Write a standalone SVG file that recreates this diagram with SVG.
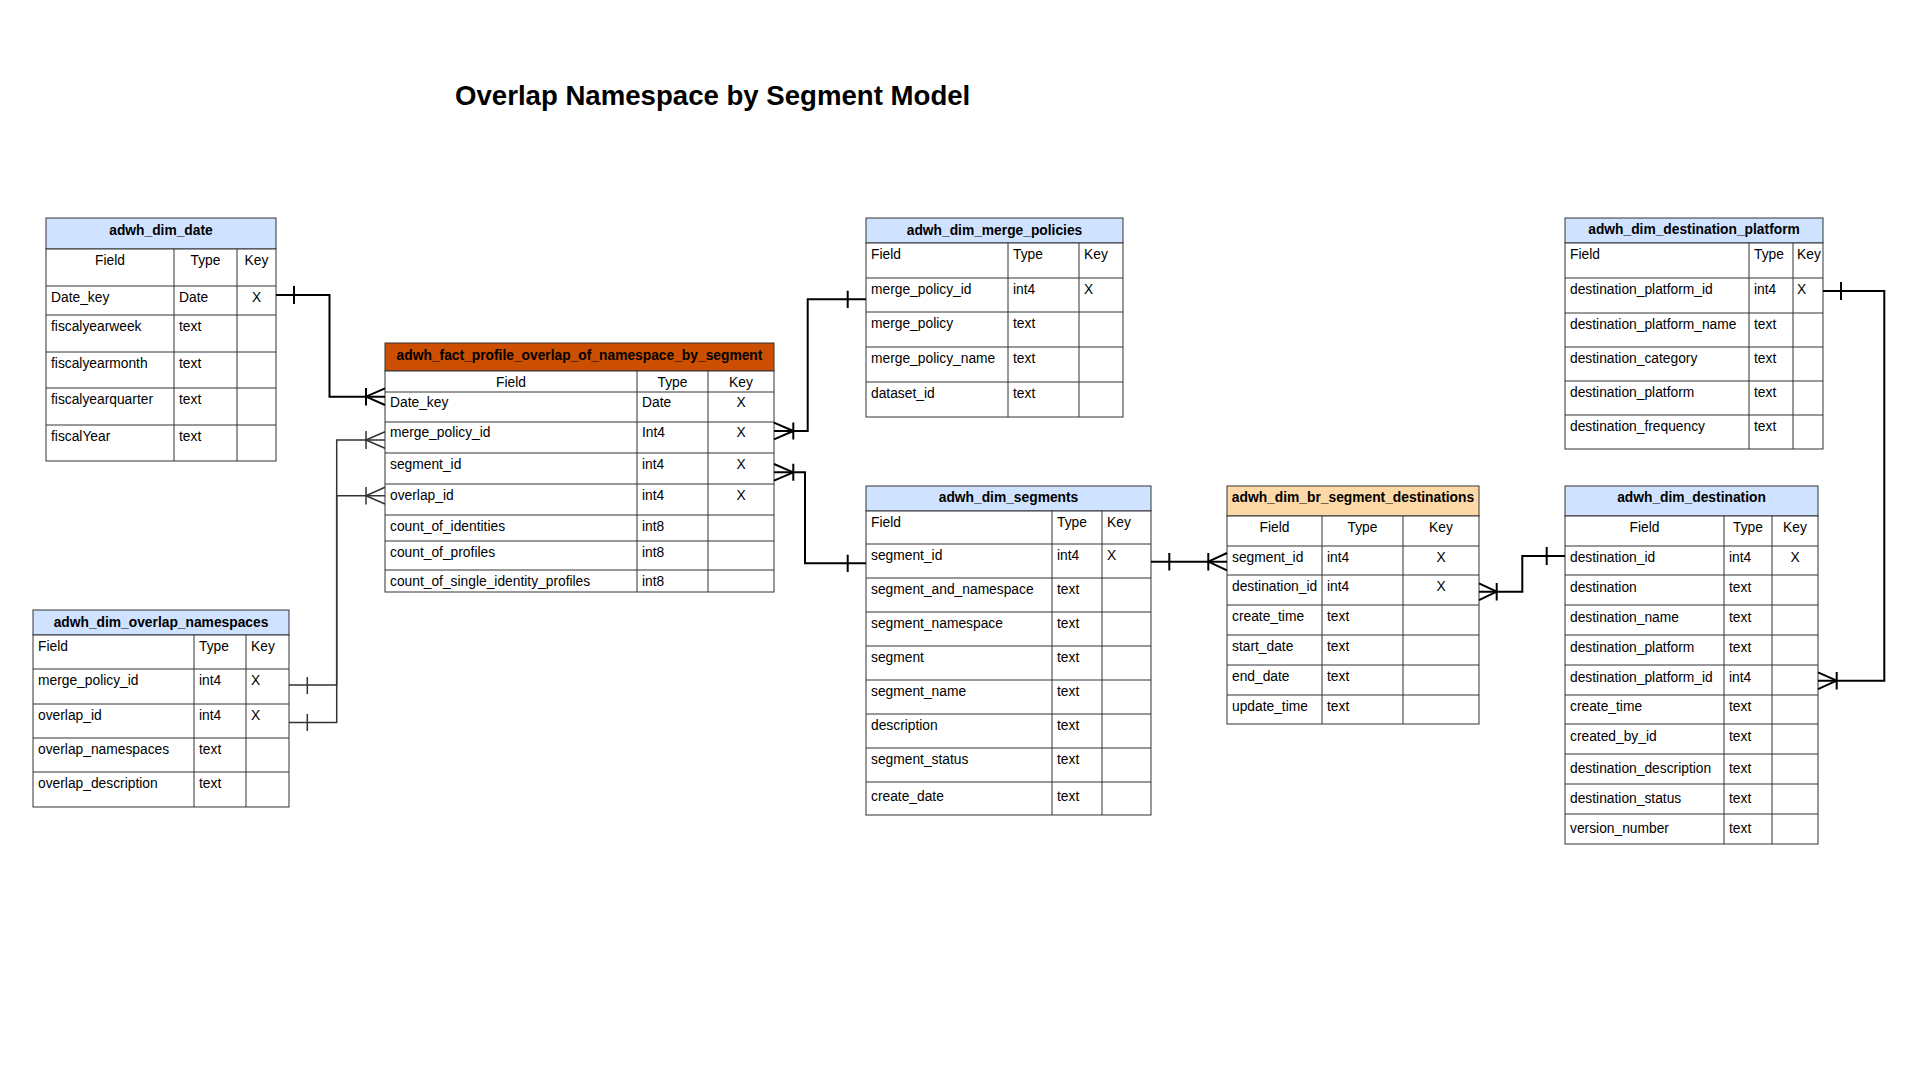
<svg xmlns="http://www.w3.org/2000/svg" width="1920" height="1080" viewBox="0 0 1920 1080">
<style>
text{font-family:"Liberation Sans",Arial,sans-serif;font-size:13.8px;fill:#000}
.tb{font-weight:bold}
.m{text-anchor:middle}
.title{font-size:27.6px;font-weight:bold}
.hd{stroke:#333;stroke-width:1}
.blue{fill:#cfe2ff}
.orange{fill:#cc4e00}
.peach{fill:#fcd9a6}
.frame{fill:#fff;stroke:#333;stroke-width:1}
.ln{fill:none;stroke:#333;stroke-width:1}
.conn{fill:none;stroke:#000;stroke-width:2}
.conn2{fill:none;stroke:#333;stroke-width:1.5}
</style>
<rect width="1920" height="1080" fill="#fff"/>
<text class="title" x="455" y="105">Overlap Namespace by Segment Model</text>

<g id="adwh_dim_date">
<rect class="hd blue" x="46" y="218" width="230" height="31"/>
<rect class="frame" x="46" y="249" width="230" height="212"/>
<path class="ln" d="M46,286H276M46,315H276M46,352H276M46,388H276M46,425H276M174,249V461M237,249V461"/>
<text class="tb m" x="161" y="235">adwh_dim_date</text>
<text class="m" x="110" y="265">Field</text><text class="m" x="205.5" y="265">Type</text><text class="m" x="256.5" y="265">Key</text>
<text x="51" y="302">Date_key</text><text x="179" y="302">Date</text><text class="m" x="256.5" y="302">X</text>
<text x="51" y="331">fiscalyearweek</text><text x="179" y="331">text</text>
<text x="51" y="368">fiscalyearmonth</text><text x="179" y="368">text</text>
<text x="51" y="404">fiscalyearquarter</text><text x="179" y="404">text</text>
<text x="51" y="441">fiscalYear</text><text x="179" y="441">text</text>
</g>

<g id="adwh_fact_profile_overlap_of_namespace_by_segment">
<rect class="hd orange" x="385" y="343" width="389" height="28"/>
<rect class="frame" x="385" y="371" width="389" height="221"/>
<path class="ln" d="M385,392H774M385,422H774M385,453H774M385,484H774M385,515H774M385,541H774M385,570H774M637,371V592M708,371V592"/>
<text class="tb m" x="579.5" y="359.5">adwh_fact_profile_overlap_of_namespace_by_segment</text>
<text class="m" x="511" y="387">Field</text><text class="m" x="672.5" y="387">Type</text><text class="m" x="741" y="387">Key</text>
<text x="390" y="407">Date_key</text><text x="642" y="407">Date</text><text class="m" x="741" y="407">X</text>
<text x="390" y="437">merge_policy_id</text><text x="642" y="437">Int4</text><text class="m" x="741" y="437">X</text>
<text x="390" y="468.5">segment_id</text><text x="642" y="468.5">int4</text><text class="m" x="741" y="468.5">X</text>
<text x="390" y="499.5">overlap_id</text><text x="642" y="499.5">int4</text><text class="m" x="741" y="499.5">X</text>
<text x="390" y="531">count_of_identities</text><text x="642" y="531">int8</text>
<text x="390" y="556.5">count_of_profiles</text><text x="642" y="556.5">int8</text>
<text x="390" y="585.5">count_of_single_identity_profiles</text><text x="642" y="585.5">int8</text>
</g>

<g id="adwh_dim_overlap_namespaces">
<rect class="hd blue" x="33" y="610" width="256" height="25"/>
<rect class="frame" x="33" y="635" width="256" height="172"/>
<path class="ln" d="M33,669H289M33,704H289M33,738H289M33,772H289M194,635V807M246,635V807"/>
<text class="tb m" x="161" y="626.5">adwh_dim_overlap_namespaces</text>
<text x="38" y="651">Field</text><text x="199" y="651">Type</text><text x="251" y="651">Key</text>
<text x="38" y="685">merge_policy_id</text><text x="199" y="685">int4</text><text x="251" y="685">X</text>
<text x="38" y="720">overlap_id</text><text x="199" y="720">int4</text><text x="251" y="720">X</text>
<text x="38" y="754">overlap_namespaces</text><text x="199" y="754">text</text>
<text x="38" y="788">overlap_description</text><text x="199" y="788">text</text>
</g>

<g id="adwh_dim_merge_policies">
<rect class="hd blue" x="866" y="218" width="257" height="25"/>
<rect class="frame" x="866" y="243" width="257" height="174"/>
<path class="ln" d="M866,278H1123M866,312H1123M866,347H1123M866,382H1123M1008,243V417M1079,243V417"/>
<text class="tb m" x="994.5" y="234.5">adwh_dim_merge_policies</text>
<text x="871" y="258.5">Field</text><text x="1013" y="258.5">Type</text><text x="1084" y="258.5">Key</text>
<text x="871" y="293.5">merge_policy_id</text><text x="1013" y="293.5">int4</text><text x="1084" y="293.5">X</text>
<text x="871" y="328">merge_policy</text><text x="1013" y="328">text</text>
<text x="871" y="362.5">merge_policy_name</text><text x="1013" y="362.5">text</text>
<text x="871" y="397.5">dataset_id</text><text x="1013" y="397.5">text</text>
</g>

<g id="adwh_dim_segments">
<rect class="hd blue" x="866" y="486" width="285" height="25"/>
<rect class="frame" x="866" y="511" width="285" height="304"/>
<path class="ln" d="M866,544H1151M866,578H1151M866,612H1151M866,646H1151M866,680H1151M866,714H1151M866,748H1151M866,782H1151M1052,511V815M1102,511V815"/>
<text class="tb m" x="1008.5" y="501.5">adwh_dim_segments</text>
<text x="871" y="526.5">Field</text><text x="1057" y="526.5">Type</text><text x="1107" y="526.5">Key</text>
<text x="871" y="560">segment_id</text><text x="1057" y="560">int4</text><text x="1107" y="560">X</text>
<text x="871" y="594">segment_and_namespace</text><text x="1057" y="594">text</text>
<text x="871" y="628">segment_namespace</text><text x="1057" y="628">text</text>
<text x="871" y="662">segment</text><text x="1057" y="662">text</text>
<text x="871" y="696">segment_name</text><text x="1057" y="696">text</text>
<text x="871" y="730">description</text><text x="1057" y="730">text</text>
<text x="871" y="764">segment_status</text><text x="1057" y="764">text</text>
<text x="871" y="801">create_date</text><text x="1057" y="801">text</text>
</g>

<g id="adwh_dim_br_segment_destinations">
<rect class="hd peach" x="1227" y="486" width="252" height="30"/>
<rect class="frame" x="1227" y="516" width="252" height="208"/>
<path class="ln" d="M1227,546H1479M1227,575H1479M1227,605H1479M1227,635H1479M1227,665H1479M1227,695H1479M1322,516V724M1403,516V724"/>
<text class="tb m" x="1353" y="502">adwh_dim_br_segment_destinations</text>
<text class="m" x="1274.5" y="532">Field</text><text class="m" x="1362.5" y="532">Type</text><text class="m" x="1441" y="532">Key</text>
<text x="1232" y="561.5">segment_id</text><text x="1327" y="561.5">int4</text><text class="m" x="1441" y="561.5">X</text>
<text x="1232" y="591">destination_id</text><text x="1327" y="591">int4</text><text class="m" x="1441" y="591">X</text>
<text x="1232" y="621">create_time</text><text x="1327" y="621">text</text>
<text x="1232" y="651">start_date</text><text x="1327" y="651">text</text>
<text x="1232" y="681">end_date</text><text x="1327" y="681">text</text>
<text x="1232" y="710.5">update_time</text><text x="1327" y="710.5">text</text>
</g>

<g id="adwh_dim_destination_platform">
<rect class="hd blue" x="1565" y="218" width="258" height="25"/>
<rect class="frame" x="1565" y="243" width="258" height="206"/>
<path class="ln" d="M1565,278H1823M1565,313H1823M1565,347H1823M1565,381H1823M1565,415H1823M1749,243V449M1793,243V449"/>
<text class="tb m" x="1694" y="234">adwh_dim_destination_platform</text>
<text x="1570" y="258.5">Field</text><text x="1754" y="258.5">Type</text><text x="1797" y="258.5">Key</text>
<text x="1570" y="293.5">destination_platform_id</text><text x="1754" y="293.5">int4</text><text x="1797" y="293.5">X</text>
<text x="1570" y="328.5">destination_platform_name</text><text x="1754" y="328.5">text</text>
<text x="1570" y="362.5">destination_category</text><text x="1754" y="362.5">text</text>
<text x="1570" y="396.5">destination_platform</text><text x="1754" y="396.5">text</text>
<text x="1570" y="430.5">destination_frequency</text><text x="1754" y="430.5">text</text>
</g>

<g id="adwh_dim_destination">
<rect class="hd blue" x="1565" y="486" width="253" height="30"/>
<rect class="frame" x="1565" y="516" width="253" height="328"/>
<path class="ln" d="M1565,546H1818M1565,575H1818M1565,605H1818M1565,635H1818M1565,665H1818M1565,695H1818M1565,724H1818M1565,754H1818M1565,784H1818M1565,814H1818M1724,516V844M1772,516V844"/>
<text class="tb m" x="1691.5" y="502">adwh_dim_destination</text>
<text class="m" x="1644.5" y="532">Field</text><text class="m" x="1748" y="532">Type</text><text class="m" x="1795" y="532">Key</text>
<text x="1570" y="561.5">destination_id</text><text x="1729" y="561.5">int4</text><text class="m" x="1795" y="561.5">X</text>
<text x="1570" y="591.5">destination</text><text x="1729" y="591.5">text</text>
<text x="1570" y="621.5">destination_name</text><text x="1729" y="621.5">text</text>
<text x="1570" y="651.5">destination_platform</text><text x="1729" y="651.5">text</text>
<text x="1570" y="681.5">destination_platform_id</text><text x="1729" y="681.5">int4</text>
<text x="1570" y="711">create_time</text><text x="1729" y="711">text</text>
<text x="1570" y="741">created_by_id</text><text x="1729" y="741">text</text>
<text x="1570" y="772.5">destination_description</text><text x="1729" y="772.5">text</text>
<text x="1570" y="802.5">destination_status</text><text x="1729" y="802.5">text</text>
<text x="1570" y="832.5">version_number</text><text x="1729" y="832.5">text</text>
</g>

<g id="connectors">
<path class="conn" d="M276,295H329.5V396.7H385"/>
<path class="conn" d="M294,286V304M366,396.7L385,388.3M366,396.7L385,405M366,388V405.5"/>
<path class="conn2" d="M289,685H336.7V440H385"/>
<path class="conn2" d="M307.3,677V694M366,440L385,431.7M366,440L385,448.3M366,431V449"/>
<path class="conn2" d="M289,722.5H336.7V495.7H385"/>
<path class="conn2" d="M307.3,714V731M366,495.7L385,487.3M366,495.7L385,504M366,487V504.5"/>
<path class="conn" d="M774,431H807.7V299.3H866"/>
<path class="conn" d="M847.7,290.7V308M793.3,431L774,422.7M793.3,431L774,439.3M793.3,422.5V439.5"/>
<path class="conn" d="M774,472.3H805V563.3H866"/>
<path class="conn" d="M847.7,554.7V572M793.3,472.3L774,464M793.3,472.3L774,480.7M793.3,463.8V480.8"/>
<path class="conn" d="M1151,561.7H1227"/>
<path class="conn" d="M1169.3,553V570.5M1208.3,561.7L1227,553M1208.3,561.7L1227,570.3M1208.3,553V570.5"/>
<path class="conn" d="M1479,591.7H1522.3V556H1565"/>
<path class="conn" d="M1546.7,547V565M1496.7,591.7L1479,583.3M1496.7,591.7L1479,600.1M1496.7,583V600.5"/>
<path class="conn" d="M1823,291H1884.3V680.7H1818"/>
<path class="conn" d="M1841,282V300M1836.7,680.7L1818,672.3M1836.7,680.7L1818,689.1M1836.7,672V689.5"/>
</g>
</svg>
